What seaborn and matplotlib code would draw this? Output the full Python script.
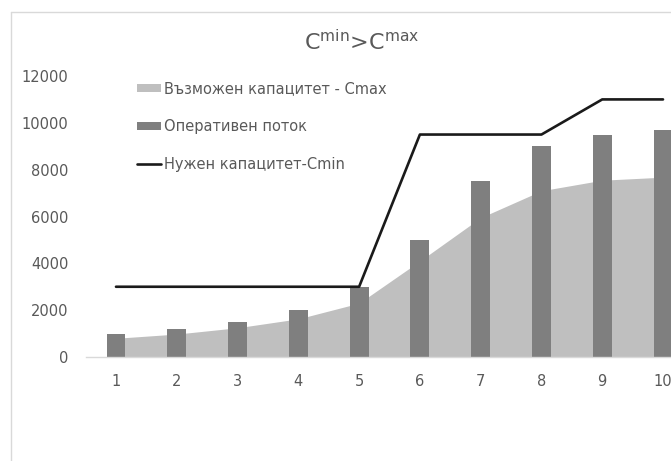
import numpy as np
import pandas as pd
import matplotlib
matplotlib.use("Agg")
import matplotlib.pyplot as plt
from matplotlib.patches import Patch
from matplotlib.lines import Line2D
import seaborn as sns

periods = ["1", "2", "3", "4", "5", "6", "7", "8", "9", "10"]
cmax_possible = [800, 980, 1250, 1630, 2300, 4100, 5950, 7100, 7550, 7680]
operative_flow = [1000, 1200, 1500, 2000, 3000, 5000, 7500, 9000, 9500, 9700]
cmin_needed = [3000, 3000, 3000, 3000, 3000, 9500, 9500, 9500, 11000, 11000]
yticks = [0, 2000, 4000, 6000, 8000, 10000, 12000]
labels = ["Възможен капацитет - Cmax", "Оперативен поток", "Нужен капацитет-Cmin"]
title = r"C$^{\mathrm{min}}$>C$^{\mathrm{max}}$"

sns.set_theme(style="white")
plt.rcParams["font.family"] = ["DejaVu Sans"]

W, H = 671, 461
fig = plt.figure(figsize=(W / 100, H / 100), dpi=100)
ax = fig.add_axes([85.6 / W, (H - 357) / H, 607.8 / W, 281 / H])

df = pd.DataFrame({"period": periods, "area": cmax_possible,
                   "flow": operative_flow, "cmin": cmin_needed})
pos = np.arange(len(periods))

ax.fill_between(pos, 0, df["area"], color="#BFBFBF", lw=0, zorder=1)
sns.barplot(data=df, x="period", y="flow", color="#7F7F7F", width=0.31,
            saturation=1, ax=ax, zorder=2, linewidth=0, edgecolor="none")
sns.lineplot(x=pos, y=df["cmin"].values, color="#1A1A1A", lw=1.9, ax=ax,
             zorder=3)

ax.set_xlim(-0.5, len(periods) - 0.5)
ax.set_ylim(0, 12000)
ax.set_yticks(yticks)
ax.set_yticklabels([str(t) for t in yticks])
ax.set_xlabel("")
ax.set_ylabel("")
ax.tick_params(axis="both", length=0, labelsize=10.5, colors="#595959")
ax.tick_params(axis="y", pad=12.5)
ax.tick_params(axis="x", pad=12.5)
for s in ["top", "right", "left"]:
    ax.spines[s].set_visible(False)
ax.spines["bottom"].set_color("#D9D9D9")
ax.spines["bottom"].set_linewidth(1)
ax.grid(False)

handles = [Patch(facecolor="#BFBFBF", edgecolor="none"),
           Patch(facecolor="#7F7F7F", edgecolor="none"),
           Line2D([], [], color="#1A1A1A", lw=1.9)]
fig.legend(handles, labels, loc="upper left",
           bbox_to_anchor=(137 / W, 1 - 81.5 / H), frameon=False,
           fontsize=10.5, labelcolor="#595959", borderpad=0,
           borderaxespad=0, labelspacing=1.55, handlelength=1.65,
           handleheight=0.45, handletextpad=0.2)

fig.text(362 / W, 1 - 42 / H, title, ha="center", va="center",
         fontsize=16, color="#595959")

# chart-area border (left and top edges visible)
fig.add_artist(Line2D([10.5 / W, 10.5 / W], [0, 1 - 12 / H],
                      transform=fig.transFigure, color="#D9D9D9", lw=1))
fig.add_artist(Line2D([10.5 / W, 1], [1 - 12 / H, 1 - 12 / H],
                      transform=fig.transFigure, color="#D9D9D9", lw=1))

fig.savefig("out.png", dpi=100)
